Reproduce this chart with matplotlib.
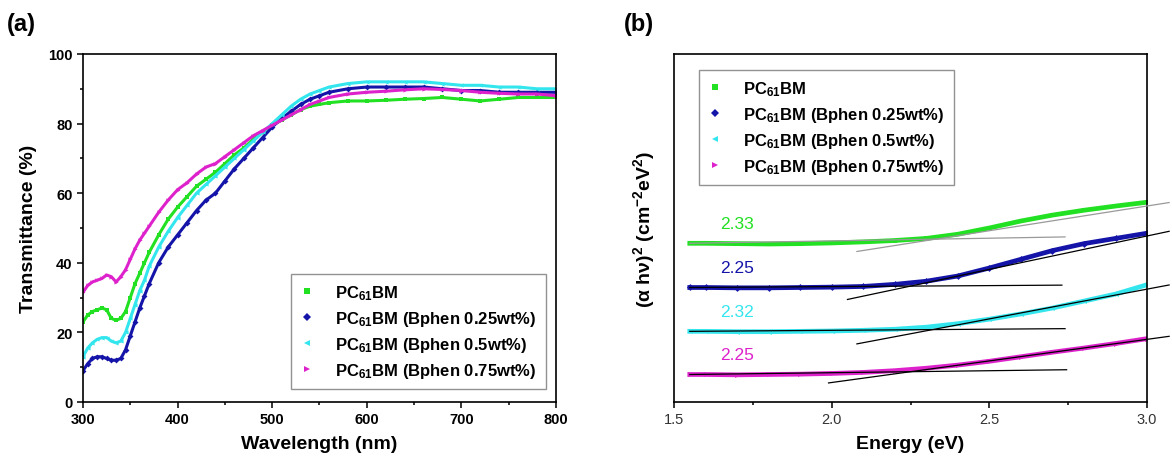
import numpy as np
import matplotlib
matplotlib.use("Agg")
import matplotlib.pyplot as plt
from matplotlib.ticker import MultipleLocator, FormatStrFormatter
from matplotlib.lines import Line2D

plt.rcParams['font.family'] = ['Liberation Sans', 'DejaVu Sans']
plt.rcParams['mathtext.fontset'] = 'custom'
plt.rcParams['mathtext.rm'] = 'Liberation Sans'
plt.rcParams['mathtext.bf'] = 'Liberation Sans:bold'
plt.rcParams['mathtext.default'] = 'bf'

# --- transmittance spectra ---
wavelength = [300, 305, 310, 315, 320, 325, 330, 335, 340, 345, 350, 355, 360, 365, 370,
              380, 390, 400, 410, 420, 430, 440, 450, 460, 470, 480, 490, 500, 510, 520,
              530, 540, 550, 560, 580, 600, 620, 640, 660, 680, 700, 720, 740, 760, 780, 800]

t_pcbm = [23, 25, 26, 26.5, 27, 26.5, 24, 23.5, 24, 26, 30, 34, 37, 40, 43,
          48, 52.5, 56, 59, 62, 64, 66, 68.5, 71, 73, 75.5, 77.5, 79.5, 81, 82.5,
          84, 85, 85.5, 86, 86.5, 86.5, 86.7, 87, 87.2, 87.5, 87, 86.5, 87, 87.5, 87.5, 87.5]
t_bphen025 = [9, 11, 12.5, 13, 13, 12.5, 12, 12, 12.5, 15, 19, 23, 27, 30.5, 34,
              40, 44.5, 48, 51.5, 55, 58, 60, 63.5, 67, 70, 73, 76, 79, 81.5, 83.5,
              85.5, 87, 88, 89, 90, 90.5, 90.5, 90.5, 90.5, 90, 89.5, 89.5, 89, 89, 89, 89]
t_bphen05 = [13, 15.5, 17, 18, 18.5, 18.5, 17.5, 17, 17.5, 20, 24, 28, 32, 35, 39,
             44.5, 49, 53, 56.5, 60, 62.5, 65, 67.5, 70, 72.5, 75, 77.5, 80, 82.5, 85,
             87, 88.5, 89.5, 90.5, 91.5, 92, 92, 92, 92, 91.5, 91, 91, 90.5, 90.5, 90, 90]
t_bphen075 = [31.5, 33.5, 34.5, 35, 35.5, 36.5, 36, 34.5, 36, 38, 41, 44, 46.5, 48.5, 50.5,
              54.5, 58, 61, 63, 65.5, 67.5, 68.5, 70.5, 72.5, 74.5, 76.5, 78, 79.5, 81, 82.5,
              84, 85.5, 86.5, 87.5, 88.5, 89, 89.3, 89.7, 90, 89.8, 89.5, 89, 88.7, 88.5, 88.5, 88]

# --- Tauc plot (arbitrary units) ---
energy = [1.55, 1.6, 1.7, 1.8, 1.9, 2.0, 2.1, 2.2, 2.3, 2.4, 2.5, 2.6, 2.7, 2.8, 2.9, 3.0]
tauc_pcbm = [0.456, 0.456, 0.455, 0.454, 0.455, 0.457, 0.460, 0.464, 0.470, 0.482,
             0.500, 0.520, 0.537, 0.551, 0.563, 0.574]
tauc_bphen025 = [0.329, 0.329, 0.328, 0.328, 0.329, 0.330, 0.332, 0.338, 0.347, 0.362,
                 0.385, 0.410, 0.435, 0.455, 0.470, 0.485]
tauc_bphen05 = [0.203, 0.203, 0.202, 0.202, 0.203, 0.204, 0.206, 0.209, 0.215, 0.225,
                0.238, 0.253, 0.270, 0.290, 0.310, 0.337]
tauc_bphen075 = [0.079, 0.079, 0.078, 0.079, 0.080, 0.082, 0.085, 0.090, 0.097, 0.106,
                 0.117, 0.130, 0.143, 0.155, 0.168, 0.182]

band_gap = [2.33, 2.25, 2.32, 2.25]
gap_level = [0.468, 0.333, 0.208, 0.087]
edge_slope = [0.142, 0.192, 0.171, 0.124]
edge_start = [2.08, 2.05, 2.08, 1.99]
edge_end = 3.07
base_end = [2.74, 2.73, 2.74, 2.745]

labels = ["PC$_{61}$BM", "PC$_{61}$BM (Bphen 0.25wt%)",
          "PC$_{61}$BM (Bphen 0.5wt%)", "PC$_{61}$BM (Bphen 0.75wt%)"]
colors = ["#22e022", "#1414a8", "#33e6ee", "#dd22cc"]
markers = ["s", "D", "<", ">"]
fit_colors = ["#999999", "black", "black", "black"]

# legend shows only the symbol, no line
handles = [Line2D([], [], linestyle="none", marker=m, color=c, ms=4, markeredgewidth=0)
           for m, c in zip(markers, colors)]
legend_kw = dict(prop={"weight": "bold", "size": 12}, frameon=True, fancybox=False,
                 edgecolor="#777777", handlelength=0.8, handletextpad=1.3,
                 borderpad=0.55, labelspacing=0.42, borderaxespad=0)

fig = plt.figure(figsize=(11.72, 4.64), dpi=100)
ax1 = fig.add_axes([0.0708, 0.1315, 0.4036, 0.75])
ax2 = fig.add_axes([0.5751, 0.1315, 0.4036, 0.75])

for ys, c, m in zip([t_pcbm, t_bphen025, t_bphen05, t_bphen075], colors, markers):
    ax1.plot(wavelength, ys, color=c, lw=2.2, marker=m, ms=3, markeredgewidth=0)

ax1.set_xlim(300, 800)
ax1.set_ylim(0, 100)
ax1.xaxis.set_major_locator(MultipleLocator(100))
ax1.xaxis.set_minor_locator(MultipleLocator(50))
ax1.yaxis.set_major_locator(MultipleLocator(20))
ax1.yaxis.set_minor_locator(MultipleLocator(10))
ax1.set_xlabel("Wavelength (nm)", fontsize=14, fontweight="bold", labelpad=6)
ax1.set_ylabel("Transmittance (%)", fontsize=14, fontweight="bold", labelpad=8)
for t in ax1.get_xticklabels() + ax1.get_yticklabels():
    t.set_fontweight("bold")
ax1.tick_params(which="major", direction="out", length=4, width=1.1, labelsize=10.5)
ax1.tick_params(which="minor", direction="out", length=2.5, width=1.1)
ax1.legend(handles, labels, loc="lower right", bbox_to_anchor=(0.978, 0.038), **legend_kw)
ax1.text(-0.16, 1.07, "(a)", transform=ax1.transAxes, fontsize=17, fontweight="bold")

for ys, c, m in zip([tauc_pcbm, tauc_bphen025, tauc_bphen05, tauc_bphen075], colors, markers):
    ax2.plot(energy, ys, color=c, lw=3.4, marker=m, ms=3.5, markeredgewidth=0)

# band-gap extrapolation: flat baseline and the linear absorption edge
for i, ys in enumerate([tauc_pcbm, tauc_bphen025, tauc_bphen05, tauc_bphen075]):
    eg, lv = band_gap[i], gap_level[i]
    bx = np.array([energy[0], base_end[i]])
    by = ys[0] + (lv - ys[0]) * (bx - energy[0]) / (eg - energy[0])
    ax2.plot(bx, by, color=fit_colors[i], lw=0.9, zorder=3)
    ex = np.array([edge_start[i], edge_end])
    ey = lv + edge_slope[i] * (ex - eg)
    ax2.plot(ex, ey, color=fit_colors[i], lw=0.9, zorder=3, clip_on=False)
    ax2.text(1.7, ys[0] + 0.035, f"{eg:.2f}", color=colors[i], fontsize=12.5,
             ha="center", va="bottom")

ax2.set_xlim(1.5, 3.0)
ax2.set_ylim(0, 1)
ax2.xaxis.set_major_locator(MultipleLocator(0.5))
ax2.xaxis.set_minor_locator(MultipleLocator(0.25))
ax2.xaxis.set_major_formatter(FormatStrFormatter("%.1f"))
ax2.set_yticks([])
ax2.tick_params(which="major", direction="out", length=4, width=1.1, labelsize=10.5,
                labelcolor="#333333")
ax2.tick_params(which="minor", direction="out", length=2.5, width=1.1)
ax2.set_xlabel("Energy (eV)", fontsize=14, fontweight="bold", labelpad=6)
ax2.set_ylabel("(α hν)$^{2}$ (cm$^{-2}$eV$^{2}$)", fontsize=14, fontweight="bold", labelpad=12)
ax2.legend(handles, labels, loc="upper left", bbox_to_anchor=(0.053, 0.955), **legend_kw)
ax2.text(-0.105, 1.07, "(b)", transform=ax2.transAxes, fontsize=17, fontweight="bold")

for ax in (ax1, ax2):
    for s in ax.spines.values():
        s.set_linewidth(1.2)

fig.savefig("out.png", dpi=100)
